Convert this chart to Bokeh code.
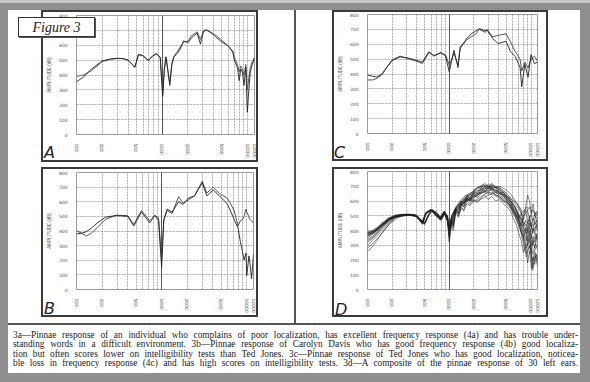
from bokeh.plotting import figure
from bokeh.models import (FixedTicker, PrintfTickFormatter, Grid, Div, Spacer,
                          GlobalInlineStyleSheet)
from bokeh.layouts import column, row
from bokeh.embed import file_html
from bokeh.resources import INLINE

# ---------------- data ----------------
y_ticks = [0, 100, 200, 300, 400, 500, 600, 700, 800]
x_label_ticks = [100, 200, 500, 1000, 2000, 5000, 10000, 12000]
x_grid_ticks = [100, 200, 300, 400, 500, 600, 700, 800, 900,
                1000, 2000, 3000, 4000, 5000, 6000, 7000, 8000, 9000, 10000]
emph_ticks = [1000]

fA = [100, 120, 150, 200, 250, 300, 350, 400, 450, 480, 530, 600, 690, 780, 860, 950,
      1016, 1060, 1110, 1230, 1300, 1370, 1500, 1630, 1780, 2020, 2200, 2570, 2800, 3050,
      3300, 3530, 4180, 4800, 5850, 6700, 6970, 7600, 7950, 8300, 8680, 9050, 9500, 9900,
      10300, 10700, 11300, 12000]
a1 = [355, 385, 440, 495, 508, 512, 510, 500, 470, 450, 540, 530, 495, 530, 544, 520,
      256, 430, 522, 330, 470, 520, 545, 575, 629, 618, 650, 682, 608, 693,
      700, 693, 660, 629, 597, 554, 501, 448, 362, 440, 420, 330, 450, 150,
      300, 420, 470, 512]
a2 = [390, 400, 430, 490, 505, 512, 510, 500, 470, 455, 535, 528, 500, 528, 540, 515,
      270, 440, 520, 345, 480, 525, 555, 590, 620, 630, 665, 690, 640, 700,
      705, 695, 670, 640, 600, 560, 520, 470, 420, 460, 440, 400, 470, 300,
      380, 450, 490, 520]

fB = [100, 115, 130, 150, 180, 220, 294, 400, 470, 580, 725, 830, 920, 1000, 1060, 1160,
      1330, 1580, 1790, 2040, 2430, 3000, 3400, 4030, 4800, 5950, 7100, 7900, 8400, 8900,
      9300, 9800, 10000, 10600, 10800, 11400, 12000]
b1 = [380, 385, 395, 420, 460, 495, 506, 500, 434, 530, 455, 508, 470, 150, 470, 550,
      529, 600, 582, 624, 640, 730, 640, 680, 640, 582, 480, 420, 328, 260,
      201, 250, 95, 230, 200, 74, 243]
b2 = [402, 385, 365, 385, 430, 480, 508, 505, 445, 540, 470, 505, 490, 200, 480, 540,
      520, 635, 590, 610, 640, 740, 660, 698, 656, 624, 540, 434, 470, 476,
      500, 550, 530, 497, 480, 470, 455]

fC = [100, 115, 130, 150, 175, 200, 250, 300, 380, 470, 563, 650, 789, 900, 1000, 1070,
      1140, 1280, 1360, 1490, 1630, 1860, 2120, 2330, 2770, 2900, 3400, 3960, 4950, 5600,
      6400, 7350, 7700, 8400, 9200, 10000, 11000, 12000]
c1 = [393, 385, 380, 400, 450, 490, 515, 510, 495, 480, 550, 520, 545, 520, 415, 490,
      560, 443, 584, 600, 638, 670, 690, 705, 690, 695, 638, 605, 620, 551,
      519, 443, 314, 465, 378, 530, 470, 480]
c2 = [360, 360, 370, 395, 450, 495, 520, 505, 490, 470, 545, 525, 540, 530, 460, 500,
      540, 460, 570, 610, 630, 650, 670, 700, 680, 700, 650, 660, 670, 616,
      551, 500, 420, 480, 440, 500, 520, 486]

fD = [100, 115, 130, 150, 180, 220, 270, 330, 400, 470, 520, 600, 700, 780, 870, 950,
      1000, 1080, 1200, 1400, 1600, 1900, 2200, 2600, 3000, 3500, 4100, 4800, 5600, 6400,
      7200, 8000, 8800, 9600, 10500, 11300, 12000]
d1 = [380, 390, 410, 440, 475, 500, 505, 508, 500, 455, 520, 540, 500, 470, 530, 470, 360, 470, 540, 580, 610, 640, 660, 690, 700, 680, 660, 630, 590, 530, 470, 400, 330, 420, 300, 380, 350]
d2 = [360, 380, 400, 435, 470, 498, 505, 505, 495, 450, 515, 538, 505, 480, 525, 480, 420, 500, 550, 600, 630, 650, 670, 680, 690, 700, 670, 620, 560, 500, 430, 350, 250, 300, 200, 280, 300]
d3 = [300, 330, 360, 400, 450, 490, 500, 505, 498, 460, 520, 542, 498, 485, 528, 460, 380, 460, 520, 570, 600, 620, 640, 660, 680, 690, 690, 650, 610, 560, 500, 450, 400, 470, 430, 450, 420]
d4 = [260, 290, 330, 380, 440, 485, 500, 502, 495, 445, 515, 536, 495, 475, 520, 470, 400, 480, 545, 590, 620, 600, 610, 640, 660, 650, 630, 600, 570, 520, 460, 380, 300, 350, 150, 250, 180]
d5 = [385, 395, 415, 445, 480, 502, 508, 510, 502, 460, 522, 540, 502, 490, 532, 475, 430, 500, 560, 610, 640, 660, 690, 700, 710, 700, 680, 650, 600, 550, 480, 420, 380, 450, 400, 500, 480]
d6 = [340, 360, 390, 425, 465, 495, 503, 505, 497, 448, 518, 537, 500, 478, 522, 465, 410, 490, 550, 580, 600, 610, 600, 620, 640, 660, 650, 640, 620, 580, 540, 500, 520, 560, 470, 520, 500]
d7 = [370, 385, 405, 440, 475, 500, 506, 507, 500, 455, 520, 540, 502, 482, 527, 472, 395, 480, 535, 575, 620, 650, 680, 700, 695, 670, 640, 610, 570, 510, 440, 320, 220, 300, 130, 230, 160]
d8 = [390, 400, 420, 450, 485, 505, 510, 510, 503, 462, 525, 542, 506, 488, 530, 478, 440, 505, 555, 590, 610, 620, 650, 670, 670, 680, 660, 640, 600, 560, 500, 460, 430, 480, 380, 430, 400]
d9 = [320, 345, 375, 415, 460, 492, 502, 504, 496, 440, 514, 535, 497, 470, 519, 462, 320, 450, 530, 570, 600, 630, 650, 660, 650, 640, 620, 590, 550, 490, 420, 360, 280, 330, 240, 310, 270]
d10 = [375, 388, 408, 442, 478, 501, 507, 508, 501, 458, 521, 541, 503, 484, 528, 476, 415, 495, 545, 595, 625, 660, 690, 710, 700, 690, 700, 680, 650, 600, 560, 520, 560, 480, 540, 500, 440]

fE = [100, 120, 150, 190, 240, 300, 380, 450, 500, 560, 620, 700, 800, 880, 950, 1000,
      1050, 1120, 1200, 1300, 1400, 1500, 1650, 1800, 2000, 2200, 2450, 2700, 3000, 3300,
      3700, 4100, 4600, 5100, 5600, 6100, 6600, 7100, 7600, 8100, 8600, 9100, 9600, 10100,
      10600, 11100, 11600, 12000]
e1 = [350, 380, 430, 480, 500, 508, 505, 470, 450, 510, 540, 520, 480, 520, 500, 380, 470, 430, 540, 510, 580, 560, 620, 600, 650, 630, 680, 660, 700, 690, 660, 680, 640, 620, 600, 560, 540, 480, 520, 430, 470, 380, 450, 350, 420, 380, 440, 400]
e2 = [330, 360, 420, 475, 498, 506, 502, 465, 440, 505, 538, 515, 470, 515, 490, 330, 450, 400, 520, 490, 560, 540, 600, 580, 620, 640, 660, 700, 680, 720, 690, 650, 660, 610, 580, 540, 500, 460, 400, 350, 420, 300, 380, 250, 330, 280, 360, 300]
e3 = [385, 395, 440, 485, 502, 510, 506, 472, 455, 512, 540, 525, 485, 522, 505, 420, 480, 450, 550, 520, 590, 570, 630, 610, 660, 650, 690, 680, 690, 670, 640, 630, 600, 590, 560, 520, 500, 470, 430, 500, 560, 640, 600, 520, 580, 500, 530, 500]
e4 = [280, 320, 380, 450, 490, 503, 500, 460, 445, 500, 535, 512, 475, 510, 485, 400, 460, 420, 530, 500, 550, 530, 580, 570, 600, 590, 620, 640, 610, 630, 600, 610, 580, 560, 530, 480, 440, 380, 330, 250, 300, 180, 260, 140, 220, 170, 240, 200]
e5 = [370, 390, 435, 482, 500, 509, 504, 468, 452, 508, 539, 518, 482, 518, 498, 360, 470, 440, 545, 530, 600, 580, 640, 620, 670, 690, 700, 720, 700, 710, 700, 690, 670, 650, 620, 600, 590, 560, 520, 470, 540, 450, 500, 420, 480, 440, 470, 430]
e6 = [365, 385, 432, 478, 499, 507, 503, 466, 448, 506, 537, 516, 478, 516, 494, 400, 465, 445, 535, 515, 570, 560, 610, 600, 640, 620, 650, 670, 660, 680, 660, 650, 630, 610, 580, 550, 520, 500, 470, 420, 380, 330, 400, 300, 360, 320, 380, 330]

caption_lines = [
    "3a\u2014Pinnae response of an individual who complains of poor localization, has excellent frequency response (4a) and has trouble under-",
    "standing words in a difficult environment. 3b\u2014Pinnae response of Carolyn Davis who has good frequency response (4b) good localiza-",
    "tion but often scores lower on intelligibility tests than Ted Jones. 3c\u2014Pinnae response of Ted Jones who has good localization, noticea-",
    "ble loss in frequency response (4c) and has high scores on intelligibility tests. 3d\u2014A composite of the pinnae response of 30 left ears.",
]
panel_letters = ["A", "B", "C", "D"]

BOX = "#3a3a3a"

# ---------------- helpers ----------------
def sp(w, h):
    return Spacer(width=w, height=h, sizing_mode="fixed", margin=0)

def bar(w, h, color=BOX):
    return Div(text="", width=w, height=h, sizing_mode="fixed", margin=0,
               styles={"background": color})

def panel(w, h, lb, rb, tb, bb):
    p = figure(width=w, height=h, x_axis_type="log", x_range=(100, 12000), y_range=(0, 800),
               output_backend="svg", toolbar_location=None, sizing_mode="fixed",
               min_border_left=lb, min_border_right=rb, min_border_top=tb, min_border_bottom=bb,
               background_fill_color="white", border_fill_color="white",
               outline_line_color="#9a9a9a", outline_line_width=1, margin=0)
    p.xaxis.ticker = FixedTicker(ticks=x_label_ticks, minor_ticks=[])
    p.xaxis.formatter = PrintfTickFormatter(format="%d")
    p.xaxis.major_label_orientation = "vertical"
    p.yaxis.ticker = FixedTicker(ticks=y_ticks, minor_ticks=[])
    for ax in (p.xaxis[0], p.yaxis[0]):
        ax.axis_line_color = None
        ax.major_tick_line_color = None
        ax.minor_tick_line_color = None
        ax.major_label_text_font_size = "4.5px"
        ax.major_label_text_color = "#555555"
        ax.major_label_text_font = "DejaVu Sans"
        ax.major_label_standoff = 3
    p.yaxis.axis_label = "AMPLITUDE (dB)"
    p.yaxis.axis_label_text_font_size = "4.5px"
    p.yaxis.axis_label_text_font_style = "normal"
    p.yaxis.axis_label_text_color = "#555555"
    p.yaxis.axis_label_standoff = 4
    p.xgrid.ticker = FixedTicker(ticks=x_grid_ticks, minor_ticks=[])
    for g in (p.xgrid[0], p.ygrid[0]):
        g.grid_line_color = "#8a8a8a"
        g.grid_line_dash = "2 1"
        g.grid_line_width = 0.7
    p.add_layout(Grid(dimension=0, ticker=FixedTicker(ticks=emph_ticks, minor_ticks=[]),
                      grid_line_color="#555555", grid_line_width=1))
    return p

def boxed(p, w, h, t=2):
    return row(bar(t, h), column(bar(w - 2 * t, t), p, bar(w - 2 * t, t),
                                 margin=0, spacing=0, sizing_mode="fixed"),
               bar(t, h), margin=0, spacing=0, sizing_mode="fixed")

# panel A: box 217x152
pA = panel(213, 148, 25, 2, 3, 20)
pA.line(fA, a2, line_color="#555555", line_width=0.9)
pA.line(fA, a1, line_color="#222222", line_width=0.9)

# panel B: box 217x150
pB = panel(213, 146, 25, 3, 3, 17)
pB.line(fB, b2, line_color="#444444", line_width=0.9)
pB.line(fB, b1, line_color="#222222", line_width=0.9)

# panel C: box 216x151
pC = panel(212, 147, 23, 9, 2, 22)
pC.line(fC, c2, line_color="#444444", line_width=0.9)
pC.line(fC, c1, line_color="#222222", line_width=0.9)

# panel D: box 216x150
pD = panel(212, 146, 24, 9, 2, 22)
for d in (d1, d2, d3, d4, d5, d6, d7, d8, d9, d10):
    pD.line(fD, d, line_color="#222222", line_width=0.6, line_alpha=0.9)
for e in (e1, e2, e3, e4, e5, e6):
    pD.line(fE, e, line_color="#222222", line_width=0.6, line_alpha=0.9)

left_col = column(boxed(pA, 217, 152), sp(1, 5), boxed(pB, 217, 150),
                  margin=0, spacing=0, sizing_mode="fixed")
right_col = column(boxed(pC, 216, 151), sp(1, 6), boxed(pD, 216, 150),
                   margin=0, spacing=0, sizing_mode="fixed")
top_row = row(sp(33, 1), left_col, sp(36, 1), bar(2, 313, "#555555"), sp(36, 1), right_col,
              margin=0, spacing=0, sizing_mode="fixed")

cap_html = "".join(
    '<div style="text-align:justify;text-align-last:justify;white-space:nowrap;">%s</div>' % ln
    for ln in caption_lines)
caption = Div(
    text='<div style="font-family:\'Liberation Serif\',serif;font-size:9.3px;line-height:9.4px;'
         'color:#1a1a1a;width:565px;margin-left:5px;padding-top:6px;">' + cap_html + '</div>',
    width=572, height=50, margin=0, sizing_mode="fixed",
    styles={"border-top": "2px solid #555555", "background": "white"})

def abs_div(html, left, top):
    return Div(text=html, margin=0,
               styles={"position": "absolute", "left": "%dpx" % left, "top": "%dpx" % top,
                       "z-index": "10"})

fig_label = abs_div(
    '<div style="font-family:\'Liberation Serif\',serif;font-style:italic;font-size:14px;'
    'color:#222;background:white;border:1px solid #333;box-shadow:1px 1px 0 #555;'
    'width:77px;height:20px;line-height:20px;text-align:center;">Figure 3</div>', 18, 17)

letter_pos = [(44, 145), (44, 301), (334, 145), (335, 302)]
letter_divs = [abs_div('<div style="font-family:\'DejaVu Sans\';font-style:italic;'
                       'font-size:16px;line-height:16px;color:#222;">%s</div>' % L, x, y)
               for L, (x, y) in zip(panel_letters, letter_pos)]

inner = column(top_row, caption, margin=0, spacing=0, sizing_mode="fixed",
               styles={"background": "white"})

root = column(bar(590, 3, "#c4c4c4"), sp(580, 7),
              row(sp(8, 1), inner, margin=0, spacing=0, sizing_mode="fixed"),
              fig_label, *letter_divs, margin=0, spacing=0, sizing_mode="fixed",
              stylesheets=[GlobalInlineStyleSheet(css="body{background:#8f8f8f;}")])

open("out.html", "w").write(file_html(root, INLINE))
